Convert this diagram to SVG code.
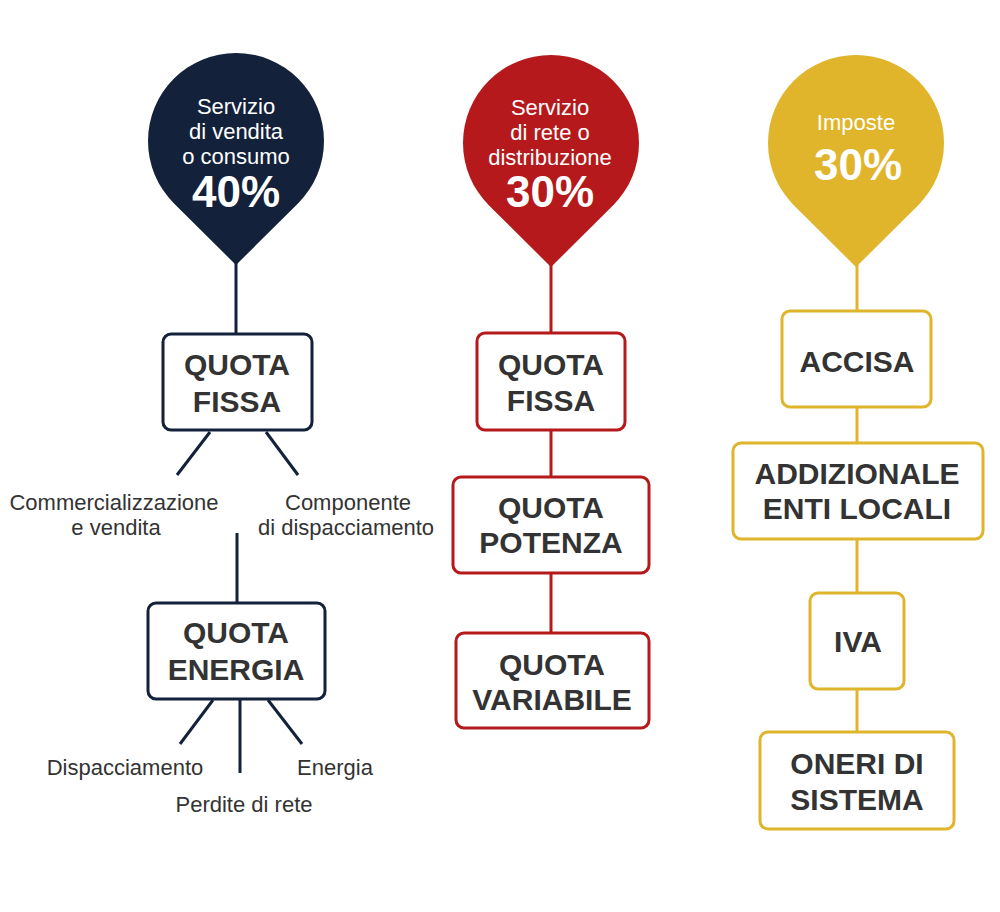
<svg xmlns="http://www.w3.org/2000/svg" width="1000" height="912" viewBox="0 0 1000 912">
<style>
.pt{font-family:"Liberation Sans",Arial,sans-serif;font-size:22px;fill:#ffffff;text-anchor:middle}
.pc{font-family:"Liberation Sans",Arial,sans-serif;font-size:44px;font-weight:bold;fill:#ffffff;text-anchor:middle}
.bt{font-family:"Liberation Sans",Arial,sans-serif;font-size:30px;font-weight:bold;fill:#333333;text-anchor:middle}
.lb{font-family:"Liberation Sans",Arial,sans-serif;font-size:22px;fill:#333333;text-anchor:middle}
.box{fill:#ffffff;stroke-width:3}
.n{stroke:#13213a}
.r{stroke:#b5191b}
.y{stroke:#e0b52c}
.ln{fill:none;stroke-width:3;stroke-linecap:butt}
</style>
<rect width="1000" height="912" fill="#ffffff"/>
<g id="connectors">
<g class="ln n">
<line x1="236" y1="262" x2="236" y2="334"/>
<line x1="210" y1="432" x2="177" y2="475"/>
<line x1="266" y1="432" x2="298" y2="475"/>
<line x1="237" y1="533" x2="237" y2="603"/>
<line x1="213" y1="700" x2="180" y2="744"/>
<line x1="240" y1="700" x2="240" y2="773"/>
<line x1="268" y1="700" x2="302" y2="744"/>
</g>
<g class="ln r">
<line x1="551" y1="264" x2="551" y2="333"/>
<line x1="551" y1="430" x2="551" y2="477"/>
<line x1="551" y1="573" x2="551" y2="633"/>
</g>
<g class="ln y">
<line x1="857" y1="264" x2="857" y2="311"/>
<line x1="857" y1="407" x2="857" y2="443"/>
<line x1="857" y1="539" x2="857" y2="593"/>
<line x1="857" y1="689" x2="857" y2="732"/>
</g>
</g>
<g id="pin-vendita">
<path d="M236 265 L173.8 203.2 A88 88 0 1 1 298.2 203.2 Z" fill="#13213a"/>
<text class="pt" x="236" y="114">Servizio</text>
<text class="pt" x="236" y="139">di vendita</text>
<text class="pt" x="236" y="164">o consumo</text>
<text class="pc" x="236" y="207">40%</text>
</g>
<g id="pin-rete">
<path d="M551 267 L488.8 205.2 A88 88 0 1 1 613.2 205.2 Z" fill="#b5191b"/>
<text class="pt" x="550" y="115">Servizio</text>
<text class="pt" x="550" y="140">di rete o</text>
<text class="pt" x="550" y="165">distribuzione</text>
<text class="pc" x="550" y="207">30%</text>
</g>
<g id="pin-imposte">
<path d="M856 267 L793.8 205.2 A88 88 0 1 1 918.2 205.2 Z" fill="#e0b52c"/>
<text class="pt" x="856" y="130">Imposte</text>
<text class="pc" x="858" y="180">30%</text>
</g>
<g id="vendita-quota-fissa">
<rect class="box n" x="163" y="334" width="149" height="96" rx="8"/>
<text class="bt" x="237" y="375">QUOTA</text>
<text class="bt" x="237" y="412">FISSA</text>
</g>
<g id="label-commercializzazione">
<text class="lb" x="114" y="510">Commercializzazione</text>
<text class="lb" x="116" y="535">e vendita</text>
</g>
<g id="label-componente">
<text class="lb" x="348" y="510">Componente</text>
<text class="lb" x="346" y="535">di dispacciamento</text>
</g>
<g id="vendita-quota-energia">
<rect class="box n" x="148" y="603" width="177" height="96" rx="8"/>
<text class="bt" x="236" y="643">QUOTA</text>
<text class="bt" x="236" y="680">ENERGIA</text>
</g>
<g id="label-dispacciamento"><text class="lb" x="125" y="775">Dispacciamento</text></g>
<g id="label-energia"><text class="lb" x="335" y="775">Energia</text></g>
<g id="label-perdite"><text class="lb" x="244" y="812">Perdite di rete</text></g>
<g id="rete-quota-fissa">
<rect class="box r" x="477" y="333" width="148" height="97" rx="8"/>
<text class="bt" x="551" y="375">QUOTA</text>
<text class="bt" x="551" y="411">FISSA</text>
</g>
<g id="rete-quota-potenza">
<rect class="box r" x="453" y="477" width="196" height="96" rx="8"/>
<text class="bt" x="551" y="518">QUOTA</text>
<text class="bt" x="551" y="553">POTENZA</text>
</g>
<g id="rete-quota-variabile">
<rect class="box r" x="456" y="633" width="193" height="95" rx="8"/>
<text class="bt" x="552" y="675">QUOTA</text>
<text class="bt" x="552" y="710">VARIABILE</text>
</g>
<g id="imposte-accisa">
<rect class="box y" x="782" y="311" width="149" height="96" rx="8"/>
<text class="bt" x="857" y="372">ACCISA</text>
</g>
<g id="imposte-addizionale">
<rect class="box y" x="733" y="443" width="250" height="96" rx="8"/>
<text class="bt" x="857" y="484">ADDIZIONALE</text>
<text class="bt" x="857" y="519">ENTI LOCALI</text>
</g>
<g id="imposte-iva">
<rect class="box y" x="810" y="593" width="94" height="96" rx="8"/>
<text class="bt" x="858" y="652">IVA</text>
</g>
<g id="imposte-oneri">
<rect class="box y" x="760" y="732" width="194" height="97" rx="8"/>
<text class="bt" x="857" y="774">ONERI DI</text>
<text class="bt" x="857" y="810">SISTEMA</text>
</g>
</svg>
